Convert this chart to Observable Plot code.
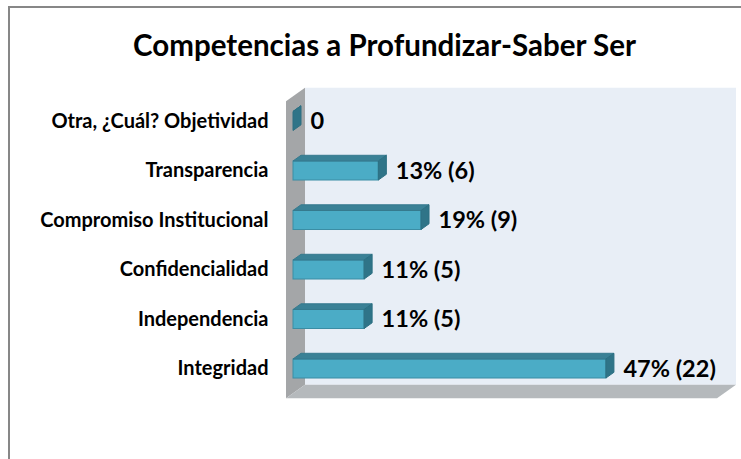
<!DOCTYPE html>
<html>
<head>
<meta charset="utf-8">
<script src="https://cdn.jsdelivr.net/npm/d3@7"></script>
<script src="https://cdn.jsdelivr.net/npm/@observablehq/plot@0.6"></script>
<style>
  html, body { margin: 0; padding: 0; background: #fff; }
  #wrap { position: relative; width: 741px; height: 459px; overflow: hidden; font-family: Lato, "Open Sans", sans-serif; }
  #border { position: absolute; left: 8px; top: 6px; width: 900px; height: 600px; border-left: 2px solid #878787; border-top: 2px solid #878787; }
  #chart { position: absolute; left: 0; top: 0; }
  #title { position: absolute; left: 0; width: 769px; top: 27px; line-height: 36px; text-align: center; font-weight: 700; font-size: 29.5px; color: #000; white-space: nowrap; }
</style>
</head>
<body>
<div id="wrap">
  <div id="border"></div>
  <div id="chart"></div>
  <div id="title">Competencias a Profundizar-Saber Ser</div>
</div>
<script>
const categories = ["Integridad", "Independencia", "Confidencialidad", "Compromiso Institucional", "Transparencia", "Otra, ¿Cuál? Objetividad"];
const counts = [22, 5, 5, 9, 6, 0];
const valueLabels = ["47% (22)", "11% (5)", "11% (5)", "19% (9)", "13% (6)", "0"];
const xMax = 30.3;

const data = categories.map((c, i) => ({cat: c, i, n: counts[i], label: valueLabels[i]}));
const half = 0.192;            // half bar thickness (in category units)
const depth = [8, -5.7];       // bar 3D depth offset (px)
const frontOff = [-7, 5];      // front plane relative to bar plane
const backOff = [12, -8.5];    // back plane relative to bar plane

function poly(points, fill, stroke) {
  const p = document.createElementNS("http://www.w3.org/2000/svg", "path");
  p.setAttribute("d", "M" + points.map(q => q.join(",")).join("L") + "Z");
  p.setAttribute("fill", fill);
  if (stroke) { p.setAttribute("stroke", stroke); p.setAttribute("stroke-width", 1); }
  return p;
}

function walls(index, scales) {
  const {x, y} = scales;
  const g = document.createElementNS("http://www.w3.org/2000/svg", "g");
  const X0 = x(0), X1 = x(xMax), Yb = y(-0.5), Yt = y(5.5);
  g.appendChild(poly([[X0 + backOff[0], Yt + backOff[1]], [X1 + backOff[0], Yt + backOff[1]], [X1 + backOff[0], Yb + backOff[1]], [X0 + backOff[0], Yb + backOff[1]]], "#E8EEF6"));
  g.appendChild(poly([[X0 + frontOff[0], Yt + frontOff[1]], [X0 + backOff[0], Yt + backOff[1]], [X0 + backOff[0], Yb + backOff[1]], [X0 + frontOff[0], Yb + frontOff[1]]], "#A4A6A8"));
  g.appendChild(poly([[X0 + frontOff[0], Yb + frontOff[1]], [X0 + backOff[0], Yb + backOff[1]], [X1 + backOff[0], Yb + backOff[1]], [X1 + frontOff[0], Yb + frontOff[1]]], "#B5B9BC"));
  return g;
}

function faces(index, scales) {
  const {x, y} = scales;
  const g = document.createElementNS("http://www.w3.org/2000/svg", "g");
  for (const d of data) {
    const x0 = x(0), x1 = x(d.n), yt = y(d.i + half), yb = y(d.i - half);
    g.appendChild(poly([[x0, yt], [x1, yt], [x1 + depth[0], yt + depth[1]], [x0 + depth[0], yt + depth[1]]], "#3A8196", "#367A8E"));
    g.appendChild(poly([[x1, yt], [x1 + depth[0], yt + depth[1]], [x1 + depth[0], yb + depth[1]], [x1, yb]], "#2F7488", "#2C6F82"));
  }
  return g;
}

const chart = Plot.plot({
  width: 741,
  height: 459,
  marginLeft: 293,
  marginRight: 17,
  marginTop: 96.25,
  marginBottom: 65.75,
  style: {fontFamily: "Lato, 'Open Sans', sans-serif", background: "transparent", overflow: "visible"},
  x: {domain: [0, xMax], axis: null},
  y: {domain: [-0.5, 5.5], axis: null},
  marks: [
    walls,
    Plot.rect(data, {x1: 0, x2: "n", y1: d => d.i - half, y2: d => d.i + half, fill: "#4BACC6", stroke: "#3B8DA4", strokeWidth: 1}),
    faces,
    Plot.text(data, {x: "n", y: "i", text: "label", dx: 17, textAnchor: "start", fontSize: 23.5, fontWeight: "bold", fill: "#000"}),
    Plot.text(data, {x: 0, y: "i", text: "cat", dx: -25, textAnchor: "end", fontSize: 20, fontWeight: "bold", fill: "#000"})
  ]
});
document.getElementById("chart").appendChild(chart);
</script>
</body>
</html>
